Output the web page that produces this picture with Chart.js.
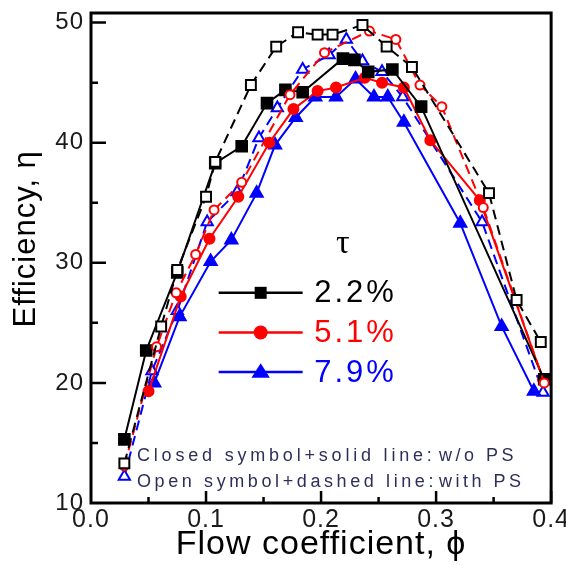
<!DOCTYPE html>
<html>
<head>
<meta charset="utf-8">
<script src="https://cdn.jsdelivr.net/npm/chart.js@4.4.1/dist/chart.umd.min.js"></script>
<style>
    html, body { margin: 0; padding: 0; background: #fff; overflow: hidden; }
    #wrap { width: 572px; height: 565px; }
</style>
</head>
<body>
<div id="wrap"><canvas id="effChart"></canvas></div>
<script>
// tip clearance tau values (legend) and the two notes
const tauLabels = ["2.2%", "5.1%", "7.9%"];
const noteLines = [["Closed symbol+solid line:", "w/o PS"], ["Open symbol+dashed line:", "with PS"]];
const yTickValues = [10, 20, 30, 40, 50];

// tau = 2.2%
const phi22Solid = [0.029, 0.048, 0.075, 0.108, 0.131, 0.153, 0.169, 0.184, 0.219, 0.229, 0.241, 0.262, 0.287, 0.394];
const eta22Solid = [15.3, 22.7, 29.2, 38.3, 39.7, 43.3, 44.4, 44.2, 47.0, 46.9, 45.9, 46.1, 43.0, 20.3];
const phi22Dash = [0.029, 0.061, 0.075, 0.100, 0.108, 0.139, 0.161, 0.180, 0.197, 0.210, 0.236, 0.257, 0.279, 0.346, 0.370, 0.391];
const eta22Dash = [13.3, 24.7, 29.4, 35.5, 38.4, 44.8, 48.0, 49.2, 49.0, 49.0, 49.8, 48.0, 46.3, 35.8, 26.9, 23.4];

// tau = 5.1%
const phi51Solid = [0.050, 0.078, 0.103, 0.128, 0.155, 0.176, 0.197, 0.213, 0.238, 0.253, 0.272, 0.295, 0.338, 0.393];
const eta51Solid = [19.3, 27.2, 32.0, 35.5, 40.0, 42.8, 44.3, 44.6, 45.4, 45.0, 44.6, 40.2, 35.2, 20.3];
const phi51Dash = [0.029, 0.057, 0.074, 0.091, 0.107, 0.131, 0.173, 0.203, 0.242, 0.265, 0.286, 0.305, 0.341, 0.394];
const eta51Dash = [13.1, 23.0, 27.5, 30.7, 34.4, 36.7, 44.0, 47.5, 49.3, 48.6, 44.8, 43.0, 34.6, 20.0];

// tau = 7.9%
const phi79Solid = [0.055, 0.077, 0.104, 0.122, 0.144, 0.160, 0.178, 0.195, 0.213, 0.230, 0.246, 0.258, 0.272, 0.321, 0.357, 0.385];
const eta79Solid = [20.0, 25.5, 30.1, 31.9, 35.8, 39.8, 42.1, 43.8, 43.8, 45.3, 43.8, 43.8, 41.7, 33.3, 24.7, 19.3];
const phi79Dash = [0.029, 0.053, 0.075, 0.101, 0.127, 0.146, 0.162, 0.184, 0.207, 0.222, 0.236, 0.253, 0.271, 0.340, 0.393];
const eta79Dash = [12.2, 21.0, 26.0, 33.4, 35.9, 40.4, 42.9, 46.1, 47.3, 48.6, 46.8, 45.9, 43.8, 33.4, 19.2];

const colors = ["#000000", "#ff0000", "#0000ff"];
const markers = ["rect", "circle", "triangle"];
const markerSize = [7.5, 5, 7];

function pts(xs, ys) {
    return xs.map((x, i) => ({ x: x, y: ys[i] }));
}

function series(label, xs, ys, k, open) {
    return {
        label: label,
        data: pts(xs, ys),
        borderColor: colors[k],
        backgroundColor: open ? "#ffffff" : colors[k],
        pointBorderColor: colors[k],
        pointBackgroundColor: open ? "#ffffff" : colors[k],
        pointStyle: markers[k],
        pointRadius: open ? markerSize[k] - 0.5 : markerSize[k],
        pointBorderWidth: 2,
        borderWidth: 2,
        borderDash: open ? [10, 6] : [],
        tension: 0,
        fill: false
    };
}

const datasets = [
    series("2.2% with PS", phi22Dash, eta22Dash, 0, true),
    series("5.1% with PS", phi51Dash, eta51Dash, 1, true),
    series("2.2%", phi22Solid, eta22Solid, 0, false),
    series("5.1%", phi51Solid, eta51Solid, 1, false),
    series("7.9%", phi79Solid, eta79Solid, 2, false),
    series("7.9% with PS", phi79Dash, eta79Dash, 2, true)
];

// small marker helper for the hand placed legend
function drawMark(ctx, style, x, y, r, color) {
    ctx.fillStyle = color;
    ctx.beginPath();
    if (style === "rect") {
        ctx.rect(x - r, y - r, 2 * r, 2 * r);
    } else if (style === "circle") {
        ctx.arc(x, y, r, 0, Math.PI * 2);
    } else {
        ctx.moveTo(x, y - r * 1.1);
        ctx.lineTo(x + r * 1.15, y + r * 0.7);
        ctx.lineTo(x - r * 1.15, y + r * 0.7);
        ctx.closePath();
    }
    ctx.fill();
}

const spacing = {
    id: "spacing",
    beforeLayout(chart) { chart.ctx.letterSpacing = "1px"; },
    beforeDraw(chart) { chart.ctx.letterSpacing = "1px"; }
};

// inward ticks + box frame
const frame = {
    id: "frame",
    afterDatasetsDraw(chart) {
        const { ctx, chartArea: a, scales } = chart;
        const xs = scales.x, ys = scales.y;
        ctx.save();
        ctx.strokeStyle = "#000";
        ctx.lineWidth = 2.5;
        ctx.beginPath();
        for (let v = 0.05; v < 0.4; v += 0.05) {
            const px = xs.getPixelForValue(v);
            const major = Math.abs(v * 10 - Math.round(v * 10)) < 1e-6;
            ctx.moveTo(px, a.bottom);
            ctx.lineTo(px, a.bottom - (major ? 12 : 6));
        }
        for (let v = 15; v <= 50; v += 5) {
            const py = ys.getPixelForValue(v);
            const major = v % 10 === 0;
            ctx.moveTo(a.left, py);
            ctx.lineTo(a.left + (major ? 15 : 7), py);
        }
        ctx.stroke();
        ctx.lineWidth = 3;
        ctx.strokeRect(a.left, a.top, a.right - a.left, a.bottom - a.top);
        ctx.restore();
    },
    afterDraw(chart) {
        const { ctx, scales } = chart;
        const xs = scales.x, ys = scales.y;
        ctx.save();
        // tau legend
        ctx.letterSpacing = "0px";
        ctx.fillStyle = "#000";
        ctx.font = "34px 'Liberation Serif'";
        ctx.textAlign = "center";
        ctx.textBaseline = "alphabetic";
        ctx.fillText("\u03c4", xs.getPixelForValue(0.219), ys.getPixelForValue(30.8));
        const rowEta = [27.5, 24.2, 20.9];
        const r = [6, 7, 8];
        tauLabels.forEach((t, k) => {
            const py = ys.getPixelForValue(rowEta[k]);
            const x0 = xs.getPixelForValue(0.111), x1 = xs.getPixelForValue(0.184);
            ctx.strokeStyle = colors[k];
            ctx.lineWidth = 2.5;
            ctx.beginPath();
            ctx.moveTo(x0, py);
            ctx.lineTo(x1, py);
            ctx.stroke();
            drawMark(ctx, markers[k], (x0 + x1) / 2, py, r[k], colors[k]);
            ctx.fillStyle = colors[k];
            ctx.font = "31px 'Liberation Sans'";
            ctx.letterSpacing = "3px";
            ctx.textAlign = "left";
            ctx.textBaseline = "middle";
            ctx.fillText(t, xs.getPixelForValue(0.194), py + 1);
        });
        // notes
        ctx.fillStyle = "#2e2e5a";
        ctx.font = "18px 'Liberation Sans'";
        ctx.textBaseline = "alphabetic";
        const noteEta = [13.5, 11.3];
        const noteGap = ["3.8px", "3.6px"];
        noteLines.forEach((pair, i) => {
            const py = ys.getPixelForValue(noteEta[i]);
            ctx.letterSpacing = noteGap[i];
            ctx.fillText(pair[0], xs.getPixelForValue(0.04), py);
            ctx.letterSpacing = "3.5px";
            ctx.fillText(pair[1], xs.getPixelForValue(0.3026), py);
        });
        ctx.restore();
    }
};

const ctx = document.getElementById("effChart").getContext("2d");

new Chart(ctx, {
    type: "line",
    data: { datasets: datasets },
    options: {
        responsive: true,
        maintainAspectRatio: false,
        animation: false,
        layout: { padding: { left: 0, top: 13, right: 19, bottom: 0 } },
        plugins: {
            legend: { display: false },
            tooltip: { enabled: false }
        },
        scales: {
            x: {
                type: "linear",
                min: 0,
                max: 0.4,
                grid: { display: false, drawTicks: false },
                border: { display: false },
                ticks: {
                    stepSize: 0.1,
                    padding: 2,
                    color: "#1a1a1a",
                    font: { family: "'Liberation Sans'", size: 25 },
                    callback: (v) => v.toFixed(1)
                },
                title: {
                    display: true,
                    text: "Flow coefficient, \u03d5",
                    color: "#000",
                    font: { family: "'Liberation Sans'", size: 34 },
                    padding: { top: 0, bottom: 0 }
                },
                afterFit: (s) => { s.height = 62; }
            },
            y: {
                min: 10,
                max: 50.8,
                grid: { display: false, drawTicks: false },
                border: { display: false },
                afterBuildTicks: (s) => { s.ticks = yTickValues.map((v) => ({ value: v })); },
                ticks: {
                    padding: 7,
                    color: "#1a1a1a",
                    font: { family: "'Liberation Sans'", size: 24 }
                },
                title: {
                    display: true,
                    text: "    Efficiency, \u03b7",
                    color: "#000",
                    font: { family: "'Liberation Sans'", size: 31 },
                    padding: { top: 8, bottom: 0 }
                },
                afterFit: (s) => {
                    s.width = 91;
                    s.paddingTop = 0;
                    s.paddingBottom = 0;
                }
            }
        }
    },
    plugins: [spacing, frame]
});
</script>
</body>
</html>
